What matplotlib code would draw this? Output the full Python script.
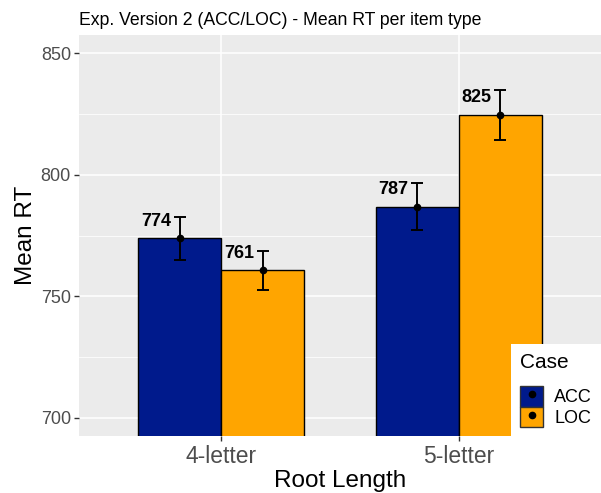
import matplotlib
matplotlib.use('Agg')
import matplotlib.pyplot as plt
import numpy as np
from matplotlib.patches import Patch
from matplotlib.lines import Line2D
from matplotlib.legend_handler import HandlerTuple
from matplotlib.ticker import MultipleLocator

# ---- data ----
root_lengths = ['4-letter', '5-letter']
cases = ['ACC', 'LOC']
acc_mean = [773.8, 786.9]
loc_mean = [760.6, 824.6]
acc_err = [9.0, 9.6]
loc_err = [8.2, 10.4]
yticks = [700, 750, 800, 850]

means = {'ACC': acc_mean, 'LOC': loc_mean}
errs = {'ACC': acc_err, 'LOC': loc_err}
colors = {'ACC': '#001A8C', 'LOC': '#FFA500'}

plt.rcParams['font.family'] = ['Liberation Sans', 'DejaVu Sans']

fig = plt.figure(figsize=(6.01, 4.93), dpi=100)
W, H = 601, 493
ax = fig.add_axes([79 / W, (H - 436) / H, (601 - 79) / W, (436 - 35) / H])
ax.set_facecolor('#EBEBEB')
for s in ax.spines.values():
    s.set_visible(False)

x = np.arange(1, len(root_lengths) + 1)
bw = 0.35
offsets = {'ACC': -bw / 2, 'LOC': bw / 2}

ax.set_axisbelow(True)
ax.yaxis.set_major_locator(MultipleLocator(50))
ax.yaxis.set_minor_locator(MultipleLocator(25))
ax.grid(which='major', axis='both', color='white', linewidth=1.1)
ax.grid(which='minor', axis='y', color='white', linewidth=0.55)

for c in cases:
    xs = x + offsets[c]
    ax.bar(xs, means[c], width=bw, color=colors[c], edgecolor='black',
           linewidth=1.0, zorder=2)
    ax.errorbar(xs, means[c], yerr=errs[c], fmt='o', color='black',
                ms=4.5, capsize=4.6, elinewidth=1.4, capthick=1.4, zorder=3)
    for xi, m in zip(xs, means[c]):
        ax.text(xi - 0.036, m + 7.1, f"{m:.0f}", ha='right', va='center',
                fontsize=13, fontweight='bold', color='black', zorder=4)

ax.set_xlim(0.4, 2.6)
ax.set_ylim(692.5, 857.5)
ax.set_xticks(x)
ax.set_xticklabels(root_lengths)
ax.set_yticks(yticks)
ax.tick_params(axis='both', which='major', color='#333333', length=3.8, width=1.0)
ax.tick_params(axis='y', which='minor', length=0)
ax.tick_params(axis='x', labelsize=16.5, labelcolor='#4D4D4D', pad=3)
ax.tick_params(axis='y', labelsize=13, labelcolor='#4D4D4D', pad=2)

ax.set_xlabel('Root Length', fontsize=17.5, color='black', labelpad=1)
ax.set_ylabel('Mean RT', fontsize=17.5, color='black', labelpad=3)
ax.set_title('Exp. Version 2 (ACC/LOC) - Mean RT per item type', loc='left',
             fontsize=12.7, color='black', pad=7)

handles = []
for c in cases:
    p = Patch(facecolor=colors[c], edgecolor='#333333', linewidth=1.0)
    d = Line2D([], [], marker='o', color='black', ms=4.5, linestyle='None')
    handles.append((p, d))
leg = ax.legend(handles, cases,
                handler_map={tuple: HandlerTuple(ndivide=1, pad=0)},
                title='Case', loc='lower right', bbox_to_anchor=(1.0, 0.0),
                borderaxespad=0, fontsize=13, title_fontsize=15,
                handlelength=1.28, handleheight=1.36, handletextpad=0.6,
                labelspacing=0.0, borderpad=0.5, frameon=True,
                fancybox=False, framealpha=1, alignment='left')
leg._legend_box.sep = 10
leg.get_frame().set_facecolor('white')
leg.get_frame().set_edgecolor('none')
leg.set_zorder(10)

fig.savefig('out.png', dpi=100)
